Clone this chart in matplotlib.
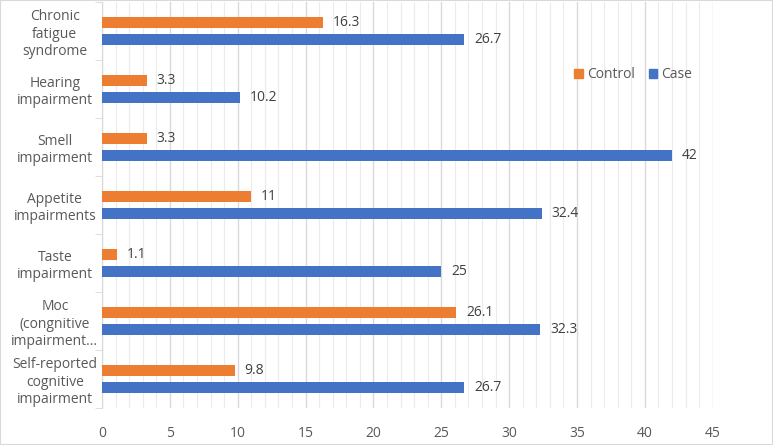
import matplotlib.pyplot as plt
import matplotlib.patches as mpatches
from matplotlib.ticker import MultipleLocator, FixedLocator, NullFormatter
import numpy as np

# Kategorien von unten nach oben
categories = ["Self-reported\ncognitive\nimpairment",
              "Moc\n(congnitive\nimpairment...",
              "Taste\nimpairment",
              "Appetite\nimpairments",
              "Smell\nimpairment",
              "Hearing\nimpairment",
              "Chronic\nfatigue\nsyndrome"]
control = [9.8, 26.1, 1.1, 11, 3.3, 3.3, 16.3]
case = [26.7, 32.3, 25, 32.4, 42, 10.2, 26.7]
x_ticks = [0, 5, 10, 15, 20, 25, 30, 35, 40, 45]

orange = "#ED7D31"
blue = "#4472C4"
text_col = "#595959"

plt.rcParams['font.family'] = ['Open Sans', 'DejaVu Sans']

fig = plt.figure(figsize=(7.73, 4.45), dpi=100)
ax = fig.add_axes([0.132, 0.083, 0.79, 0.913])

y = np.arange(len(categories))
h = 0.19
off = 0.142

bars_ctrl = ax.barh(y + off, control, height=h, color=orange, label="Control", zorder=3)
bars_case = ax.barh(y - off, case, height=h, color=blue, label="Case", zorder=3)

for bars in (bars_ctrl, bars_case):
    for b in bars:
        w = b.get_width()
        label = str(w) if w % 1 else str(int(w))
        ax.annotate(label, (w, b.get_y() + b.get_height() / 2), xytext=(7, 0),
                    textcoords="offset points", va="center", ha="left",
                    fontsize=10, color="#404040")

ax.set_xlim(0, 45)
ax.set_ylim(-0.5, len(categories) - 0.5)
ax.set_xticks(x_ticks)
ax.xaxis.set_minor_locator(MultipleLocator(1))
ax.grid(axis="x", which="major", color="#D9D9D9", linewidth=1, zorder=0)
ax.grid(axis="x", which="minor", color="#EBEBEB", linewidth=0.8, zorder=0)
ax.tick_params(axis="x", which="both", length=0, labelsize=10, colors=text_col, pad=13)

# Kategorie-Labels ohne Ticks, Ticks zwischen den Kategorien
ax.set_yticks(y)
ax.set_yticklabels(categories, ha="center", multialignment="center", linespacing=1.22)
ax.tick_params(axis="y", which="major", length=0, labelsize=10, colors=text_col, pad=34)
ax.yaxis.set_minor_locator(FixedLocator(np.arange(-0.5, len(categories), 1)))
ax.yaxis.set_minor_formatter(NullFormatter())
ax.tick_params(axis="y", which="minor", length=5, color="#D9D9D9")

for s in ["top", "right", "bottom"]:
    ax.spines[s].set_visible(False)
ax.spines["left"].set_color("#D9D9D9")

handles = [mpatches.Patch(color=orange, label="Control"),
           mpatches.Patch(color=blue, label="Case")]
leg = ax.legend(handles=handles, loc="center", bbox_to_anchor=(0.87, 0.82), ncol=2,
                frameon=False, fontsize=10, handlelength=0.6, handleheight=0.6,
                handletextpad=0.3, columnspacing=1.0)
for t in leg.get_texts():
    t.set_color(text_col)

fig.patches.append(mpatches.Rectangle((0, 0), 1, 1, transform=fig.transFigure,
                                      fill=False, edgecolor="#D9D9D9", linewidth=1.5))

fig.savefig("out.png", dpi=100)
